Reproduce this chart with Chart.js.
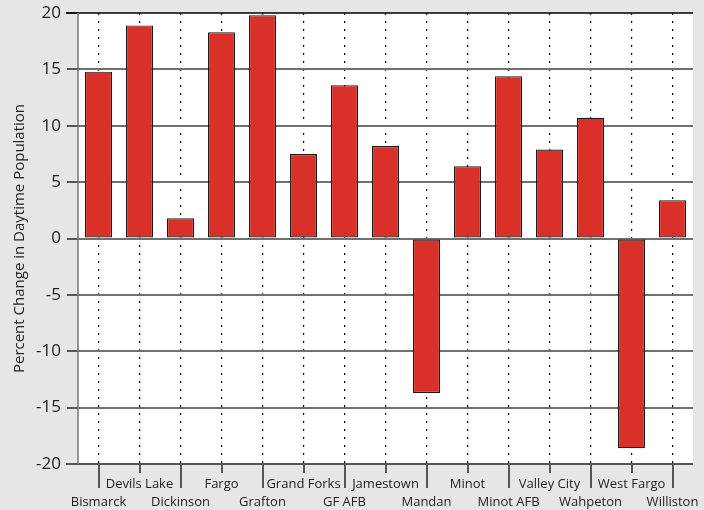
<!DOCTYPE html>
<html>
<head>
<meta charset="utf-8">
<script src="https://cdn.jsdelivr.net/npm/chart.js@4/dist/chart.umd.min.js"></script>
<style>
  html, body { margin: 0; padding: 0; background: #e6e6e6; }
  #wrap { width: 704px; height: 510px; }
</style>
</head>
<body>
<div id="wrap"><canvas id="c" width="704" height="510"></canvas></div>
<script>
const categories = ['Bismarck', 'Devils Lake', 'Dickinson', 'Fargo', 'Grafton', 'Grand Forks', 'GF AFB', 'Jamestown', 'Mandan', 'Minot', 'Minot AFB', 'Valley City', 'Wahpeton', 'West Fargo', 'Williston'];
const changeValues = [14.8, 18.9, 1.8, 18.3, 19.8, 7.5, 13.6, 8.2, -13.7, 6.4, 14.4, 7.9, 10.7, -18.6, 3.4];
const yTicks = [-20, -15, -10, -5, 0, 5, 10, 15, 20];
const yTitle = 'Percent Change in Daytime Population';

const FONT = "'Open Sans', 'DejaVu Sans', sans-serif";

const bgPlugin = {
  id: 'bg',
  beforeDraw(chart) {
    const { ctx, chartArea: a } = chart;
    ctx.save();
    ctx.fillStyle = '#e6e6e6';
    ctx.fillRect(0, 0, chart.width, chart.height);
    ctx.fillStyle = '#ffffff';
    ctx.fillRect(a.left, a.top, a.right - a.left, a.bottom - a.top);
    ctx.restore();
  }
};

const xTickPlugin = {
  id: 'xticks',
  afterDraw(chart) {
    const { ctx, chartArea: a } = chart;
    const xs = chart.scales.x;
    const ys = chart.scales.y;
    ctx.save();
    ctx.strokeStyle = '#555555';
    ctx.lineWidth = 2;
    ctx.beginPath();
    ctx.moveTo(a.left - 12, a.bottom);
    ctx.lineTo(a.right, a.bottom);
    ctx.stroke();
    ctx.strokeStyle = '#000000';
    ctx.lineWidth = 1.5;
    ctx.beginPath();
    ctx.moveTo(a.left - 12, ys.getPixelForValue(20));
    ctx.lineTo(a.right, ys.getPixelForValue(20));
    ctx.stroke();
    ctx.strokeStyle = '#555555';
    ctx.lineWidth = 2;
    categories.forEach((c, i) => {
      const x = Math.round(xs.getPixelForTick(i));
      const len = i % 2 === 0 ? 24 : 9;
      ctx.beginPath();
      ctx.moveTo(x, a.bottom);
      ctx.lineTo(x, a.bottom + len);
      ctx.stroke();
    });
    ctx.strokeStyle = '#777777';
    ctx.lineWidth = 1.5;
    ctx.beginPath();
    ctx.moveTo(a.left, a.top);
    ctx.lineTo(a.left, a.bottom);
    ctx.stroke();
    ctx.restore();
  }
};

new Chart(document.getElementById('c'), {
  type: 'bar',
  data: {
    labels: categories.map((c, i) => i % 2 === 0 ? ['', c] : [c]),
    datasets: [{
      data: changeValues,
      backgroundColor: '#d9312a',
      borderColor: '#1a1a1a',
      borderWidth: 1.2,
      borderSkipped: false,
      barPercentage: 0.66,
      categoryPercentage: 1.0
    }]
  },
  options: {
    responsive: false,
    animation: false,
    devicePixelRatio: 1,
    layout: { padding: { top: 13, right: 11, left: 0, bottom: 0 } },
    plugins: { legend: { display: false }, tooltip: { enabled: false } },
    scales: {
      x: {
        offset: true,
        afterFit(s) { s.height = 46; s.paddingLeft = 0; s.paddingRight = 0; },
        grid: {
          offset: false,
          drawTicks: false,
          color: '#000000',
          lineWidth: 1.2,
          tickLength: 0
        },
        border: { display: false, dash: [2, 6] },
        ticks: {
          color: '#222222',
          font: { family: FONT, size: 13, lineHeight: 1.35 },
          maxRotation: 0,
          autoSkip: false,
          padding: 12
        }
      },
      y: {
        min: -20,
        max: 20,
        afterFit(s) { s.width = 78; s.paddingTop = 0; },
        afterBuildTicks(s) { s.ticks = yTicks.map(v => ({ value: v })); },
        grid: {
          color: (ctx) => ctx.tick && ctx.tick.value === 20 ? 'rgba(0,0,0,0)' : '#707070',
          lineWidth: 2,
          tickLength: 11,
          tickColor: '#555555',
          drawOnChartArea: true
        },
        border: { display: false },
        ticks: {
          color: '#222222',
          font: { family: FONT, size: 17, lineHeight: 1.0 },
          padding: 6
        },
        title: {
          display: true,
          text: yTitle,
          color: '#222222',
          font: { family: FONT, size: 15, lineHeight: 1.2 },
          padding: { top: 11, bottom: 0 }
        }
      }
    }
  },
  plugins: [bgPlugin, xTickPlugin]
});
</script>
</body>
</html>
